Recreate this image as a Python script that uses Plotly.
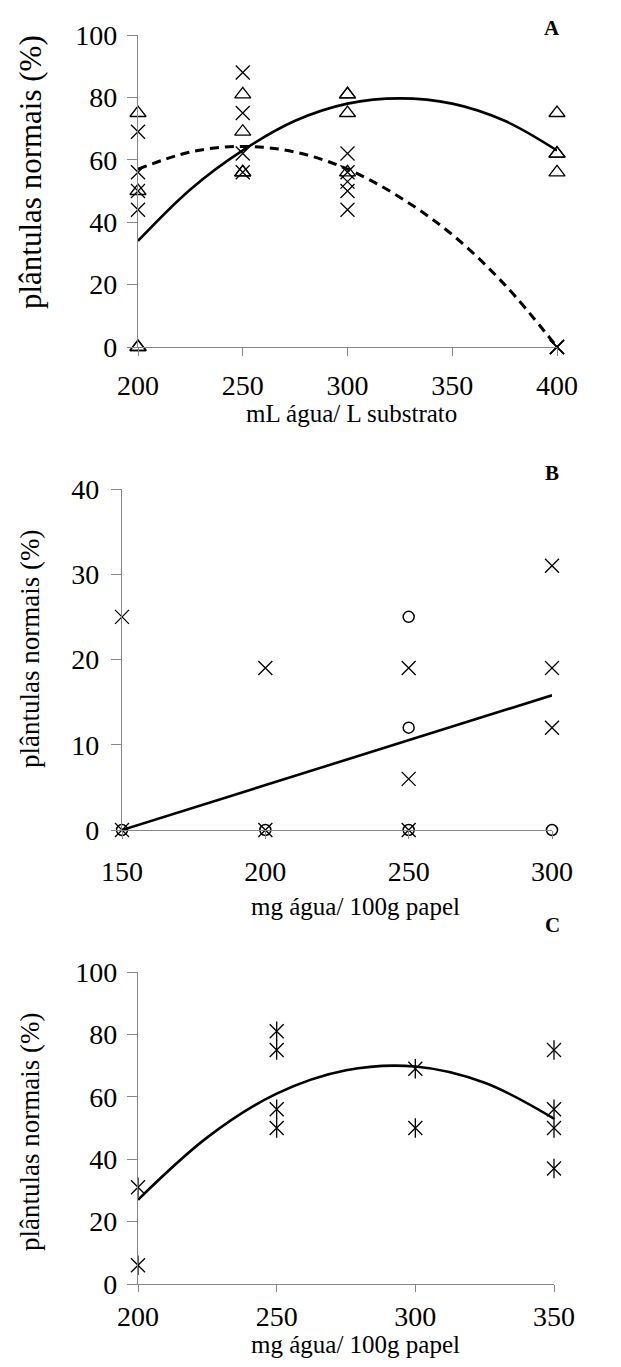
import plotly.graph_objects as go

# page offset (browser default body margin) compensation
OFF = 8
W, H = 621 - 2 * OFF, 1367 - 2 * OFF

# ---------------- data ----------------
# Panel A
a_x_cross = [200, 200, 200, 200, 250, 250, 250, 250, 300, 300, 300, 300, 300, 400, 400, 400, 400]
a_y_cross = [69, 56, 50, 44, 88, 75, 62, 56, 62, 56, 53, 50, 44, 0, 0, 0, 0]
a_x_tri = [200, 200, 200, 200, 250, 250, 250, 250, 300, 300, 300, 300, 400, 400, 400, 400]
a_y_tri = [75, 50, 0, 0, 81, 69, 56, 56, 81, 81, 75, 56, 75, 62, 62, 56]
a_fit_x = [200, 225, 250, 275, 300, 325, 350, 375, 400]
a_fit_solid = [34, 50.5, 63, 72.5, 78, 79.7, 78, 72.5, 63]
a_fit_dash = [57, 62.5, 64.3, 62.5, 57, 48, 36, 20, 0]

# Panel B
b_x_cross = [150, 150, 200, 200, 250, 250, 250, 300, 300, 300]
b_y_cross = [25, 0, 19, 0, 19, 6, 0, 31, 19, 12]
b_x_circ = [150, 200, 250, 250, 250, 300]
b_y_circ = [0, 0, 25, 12, 0, 0]
b_fit_x = [150, 300]
b_fit_y = [0, 15.8]

# Panel C
c_x_star = [200, 200, 250, 250, 250, 250, 300, 300, 350, 350, 350, 350]
c_y_star = [31, 6, 81, 75, 56, 50, 69, 50, 75, 56, 50, 37]
c_fit_x = [200, 225, 250, 275, 300, 325, 350]
c_fit_y = [27, 47, 61, 68.5, 69.7, 64.5, 53]

# tick labels
a_xticks = [200, 250, 300, 350, 400]
a_yticks = [0, 20, 40, 60, 80, 100]
b_xticks = [150, 200, 250, 300]
b_yticks = [0, 10, 20, 30, 40]
c_xticks = [200, 250, 300, 350]
c_yticks = [0, 20, 40, 60, 80, 100]

ytitle = "plântulas normais (%)"
a_xtitle = "mL água/ L substrato"
bc_xtitle = "mg água/ 100g papel"

FONT = "Liberation Serif, Times New Roman, serif"
AXC = "#868686"


def px_x(p):
    return (p - OFF) / W


def px_y(p):
    return 1 - (p - OFF) / H


fig = go.Figure()

cross = dict(symbol="x-thin-open", size=14, color="black", line=dict(color="black", width=1.3))
tri = dict(symbol="triangle-up-open", size=14, color="black", line=dict(color="black", width=1.3))
circ = dict(symbol="circle-open", size=11, color="black", line=dict(color="black", width=1.5))
vline = dict(symbol="line-ns-open", size=14, color="black", line=dict(color="black", width=1.3))

# Panel A
fig.add_trace(go.Scatter(x=a_fit_x, y=a_fit_solid, mode="lines", line=dict(color="black", width=2.6, shape="spline"),
                         xaxis="x", yaxis="y", showlegend=False, cliponaxis=False))
fig.add_trace(go.Scatter(x=a_fit_x, y=a_fit_dash, mode="lines",
                         line=dict(color="black", width=3, shape="spline", dash="9px,6px"),
                         xaxis="x", yaxis="y", showlegend=False, cliponaxis=False))
fig.add_trace(go.Scatter(x=a_x_cross, y=a_y_cross, mode="markers", marker=cross,
                         xaxis="x", yaxis="y", showlegend=False, cliponaxis=False))
fig.add_trace(go.Scatter(x=a_x_tri, y=a_y_tri, mode="markers", marker=tri,
                         xaxis="x", yaxis="y", showlegend=False, cliponaxis=False))

# Panel B
fig.add_trace(go.Scatter(x=b_fit_x, y=b_fit_y, mode="lines", line=dict(color="black", width=2.6),
                         xaxis="x2", yaxis="y2", showlegend=False, cliponaxis=False))
fig.add_trace(go.Scatter(x=b_x_cross, y=b_y_cross, mode="markers", marker=cross,
                         xaxis="x2", yaxis="y2", showlegend=False, cliponaxis=False))
fig.add_trace(go.Scatter(x=b_x_circ, y=b_y_circ, mode="markers", marker=circ,
                         xaxis="x2", yaxis="y2", showlegend=False, cliponaxis=False))

# Panel C
fig.add_trace(go.Scatter(x=c_fit_x, y=c_fit_y, mode="lines", line=dict(color="black", width=2.6, shape="spline"),
                         xaxis="x3", yaxis="y3", showlegend=False, cliponaxis=False))
fig.add_trace(go.Scatter(x=c_x_star, y=c_y_star, mode="markers", marker=cross,
                         xaxis="x3", yaxis="y3", showlegend=False, cliponaxis=False))
fig.add_trace(go.Scatter(x=c_x_star, y=c_y_star, mode="markers", marker=vline,
                         xaxis="x3", yaxis="y3", showlegend=False, cliponaxis=False))

tickfont = dict(family=FONT, size=28, color="black")


def xax(dom, rng, ticks, anchor, standoff, ticklen=8):
    return dict(domain=dom, range=rng, tickvals=ticks, ticktext=[str(t) for t in ticks],
                showline=True, linecolor=AXC, linewidth=1.3, ticks="outside", ticklen=ticklen,
                tickcolor=AXC, tickwidth=1.3, showgrid=False, zeroline=False, automargin=False,
                tickfont=tickfont, anchor=anchor, ticklabelstandoff=standoff, fixedrange=True)


def yax(dom, rng, ticks, anchor, standoff):
    return dict(domain=dom, range=rng, tickvals=ticks, ticktext=[str(t) for t in ticks],
                showline=True, linecolor=AXC, linewidth=1.3, ticks="outside", ticklen=10,
                tickcolor=AXC, tickwidth=1.3, showgrid=False, zeroline=False, automargin=False,
                tickfont=tickfont, anchor=anchor, ticklabelstandoff=standoff, fixedrange=True)


fig.update_layout(
    template="none",
    width=W, height=H,
    margin=dict(l=0, r=0, t=0, b=0, pad=0, autoexpand=False),
    paper_bgcolor="white", plot_bgcolor="white",
    font=dict(family=FONT, color="black"),
    showlegend=False,
    xaxis=xax([px_x(138), px_x(557)], [200, 400], a_xticks, "y", 5),
    yaxis=yax([px_y(347), px_y(35)], [0, 100], a_yticks, "x", 4),
    xaxis2=xax([px_x(122), px_x(552)], [150, 300], b_xticks, "y2", 8),
    yaxis2=yax([px_y(830), px_y(489)], [0, 40], b_yticks, "x2", 6),
    xaxis3=xax([px_x(138), px_x(554)], [200, 350], c_xticks, "y3", 0, ticklen=7),
    yaxis3=yax([px_y(1284), px_y(972)], [0, 100], c_yticks, "x3", 4),
)

ann = []
# y titles
for cy, size in [(172, 31), (649, 27), (1132, 27)]:
    ann.append(dict(text=ytitle, x=px_x(30), y=px_y(cy), xref="paper", yref="paper",
                    xanchor="center", yanchor="middle", textangle=-90, showarrow=False,
                    font=dict(family=FONT, size=size, color="black")))
# x titles
for cx, cy, t in [(351, 413, a_xtitle), (355, 906, bc_xtitle), (355, 1344, bc_xtitle)]:
    ann.append(dict(text=t, x=px_x(cx), y=px_y(cy), xref="paper", yref="paper",
                    xanchor="center", yanchor="middle", showarrow=False, borderpad=0,
                    font=dict(family=FONT, size=25, color="black")))
# panel letters
for cy, t in [(28, "A"), (473, "B"), (925, "C")]:
    ann.append(dict(text="<b>" + t + "</b>", x=px_x(552), y=px_y(cy), xref="paper", yref="paper",
                    xanchor="center", yanchor="middle", showarrow=False,
                    font=dict(family=FONT, size=21, color="black")))
fig.update_layout(annotations=ann)

fig.write_html("out.html")
